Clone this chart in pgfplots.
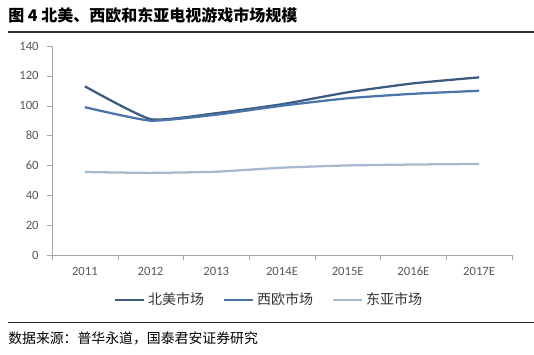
\documentclass[border=0pt]{standalone}
\usepackage{pgfplots}
\pgfplotsset{compat=1.18}
\usepackage{fontspec}
\setmainfont{Carlito}
\newfontfamily\cjk{Noto Sans CJK SC}
\definecolor{naC}{HTML}{3D5A80}
\definecolor{euC}{HTML}{4A74AA}
\definecolor{asC}{HTML}{A9B9CD}
\definecolor{axC}{HTML}{A6A6A6}
\definecolor{txC}{HTML}{595959}
\begin{document}
\begin{tikzpicture}[x=1pt,y=1pt]
\useasboundingbox (0,0) rectangle (400.5,265.5);
\node[anchor=west,inner sep=0] at (6,254) {\cjk\bfseries\fontsize{12}{14}\selectfont 图 4\ 北美、西欧和东亚电视游戏市场规模};
\draw[line width=1.6pt,black!80] (6,241.5) -- (400.5,241.5);
\begin{axis}[
  at={(39pt,74.25pt)}, anchor=south west,
  scale only axis, width=345pt, height=156.75pt,
  xmin=-0.5, xmax=6.5, ymin=0, ymax=140,
  axis x line*=bottom, axis y line*=left,
  axis line style={axC},
  xtick={0,...,6},
  xticklabels={2011,2012,2013,2014E,2015E,2016E,2017E},
  major x tick style={draw=none},
  minor xtick={-0.5,0.5,...,6.5},
  minor tick length=3.5pt,
  minor x tick style={axC},
  ytick={0,20,...,140},
  major tick length=3.5pt,
  y tick style={axC},
  tick align=outside,
  ticklabel style={font=\fontsize{9.5}{11}\selectfont, text=txC},
  /pgf/number format/assume math mode=true,
  xticklabel style={yshift=-2pt, text height=1.4ex, text depth=0.2ex},
  yticklabel style={xshift=-3pt},
  legend style={at={(0.4725,-0.215)}, anchor=center, draw=none, legend columns=3,
    font=\cjk\fontsize{10.5}{12}\selectfont, text=black!80,
    /tikz/every even column/.append style={column sep=12pt}},
  legend image code/.code={\draw[#1] (0pt,0pt) -- (22pt,0pt);},
]
\addplot[naC, line width=1.7pt, smooth, tension=0.3] coordinates {(0,113) (1,91) (2,95) (3,101) (4,109) (5,115) (6,119)};
\addlegendentry{北美市场}
\addplot[euC, line width=1.7pt, smooth, tension=0.3] coordinates {(0,99) (1,90) (2,94) (3,100) (4,105) (5,108) (6,110)};
\addlegendentry{西欧市场}
\addplot[asC, line width=1.7pt, smooth, tension=0.3] coordinates {(0,55.6) (1,55) (2,55.8) (3,58.5) (4,60) (5,60.6) (6,61)};
\addlegendentry{东亚市场}
\end{axis}
\draw[line width=0.7pt,black!85] (6,24) -- (400.5,24);
\node[anchor=west,inner sep=0] at (6,12) {\cjk\fontsize{10.4}{12}\selectfont 数据来源：普华永道，国泰君安证券研究};
\end{tikzpicture}
\end{document}
